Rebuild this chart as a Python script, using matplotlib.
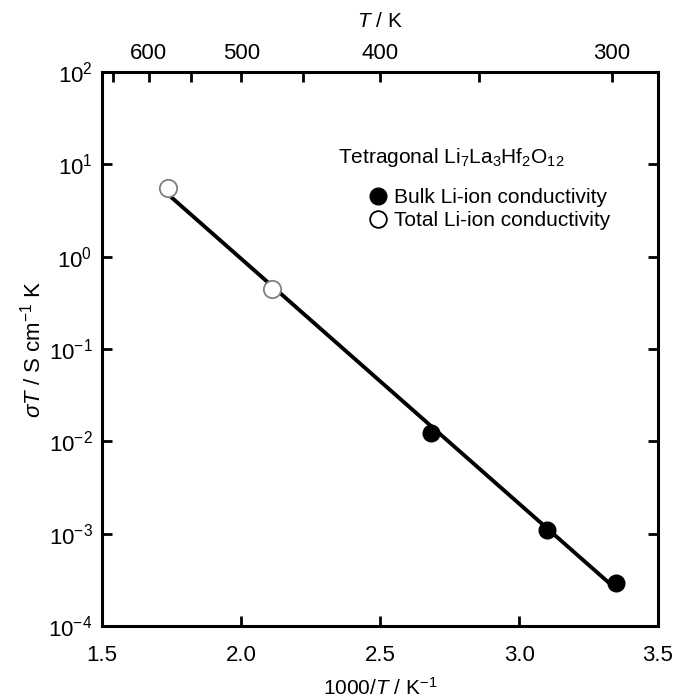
import numpy as np
import matplotlib
matplotlib.use("Agg")
import matplotlib.pyplot as plt
from matplotlib.lines import Line2D

plt.rcParams['font.family'] = ['Liberation Sans', 'DejaVu Sans']
plt.rcParams['mathtext.fontset'] = 'custom'
plt.rcParams['mathtext.rm'] = 'Liberation Sans'
plt.rcParams['mathtext.it'] = 'Liberation Sans:italic'
plt.rcParams['mathtext.default'] = 'regular'

# data
x_total = [1.736, 2.110]          # 1000/T, total conductivity (open)
y_total = [5.5, 0.445]
x_bulk = [2.682, 3.100, 3.349]    # 1000/T, bulk conductivity (filled)
y_bulk = [0.0123, 0.00110, 0.000296]

T_major = [600, 500, 400, 300]
T_minor = [650, 550, 450, 350]

# Arrhenius fit over all points
x_all = np.array(x_total + x_bulk)
y_all = np.log10(y_total + y_bulk)
p = np.polyfit(x_all, y_all, 1)
x_fit = np.array([x_all.min(), x_all.max()])
y_fit = 10 ** np.polyval(p, x_fit)

fig = plt.figure(figsize=(6.77, 6.98), dpi=100)
ax = fig.add_axes([0.151, 0.103, 0.821, 0.794])

ax.plot(x_fit, y_fit, color='black', lw=2.8, zorder=2)
ax.plot(x_total, y_total, 'o', ms=12.5, mfc='white', mec='#808080', mew=1.3, zorder=3)
ax.plot(x_bulk, y_bulk, 'o', ms=12, mfc='black', mec='black', zorder=3)

ax.set_yscale('log')
ax.set_xlim(1.5, 3.5)
ax.set_ylim(1e-4, 1e2)
ax.set_xticks([1.5, 2.0, 2.5, 3.0, 3.5])
ax.set_xticklabels(['1.5', '2.0', '2.5', '3.0', '3.5'])
ax.set_yticks([10.0 ** k for k in range(-4, 3)])
ax.set_yticklabels([r'$10^{%d}$' % k for k in range(-4, 3)])
ax.yaxis.set_minor_locator(matplotlib.ticker.NullLocator())
ax.tick_params(which='both', direction='in', length=7.5, width=2, labelsize=16, pad=7,
               right=True)
ax.tick_params(axis='x', pad=13.5)

for s in ax.spines.values():
    s.set_linewidth(2.2)

ax.set_xlabel(r'1000/$\mathit{T}$ / K$^{-1}$', fontsize=15, labelpad=8)
ax.set_ylabel(r'$\mathit{\sigma T}$ / S cm$^{-1}$ K', fontsize=16, labelpad=2)

# top axis in temperature
sec = ax.secondary_xaxis('top', functions=(lambda x: 1000 / x, lambda t: 1000 / t))
sec.set_xticks(T_major)
sec.set_xticklabels([str(t) for t in T_major])
sec.set_xticks(T_minor, minor=True)
sec.tick_params(which='both', direction='in', length=7.5, width=2, labelsize=16, pad=6)
sec.set_xlabel(r'$\mathit{T}$ / K', fontsize=15, labelpad=11)

ax.text(0.424, 0.846, r'Tetragonal Li$_7$La$_3$Hf$_2$O$_{12}$', transform=ax.transAxes,
        fontsize=15, va='center', ha='left')
handles = [Line2D([], [], ls='none', marker='o', ms=12, mfc='black', mec='black'),
           Line2D([], [], ls='none', marker='o', ms=12, mfc='white', mec='black', mew=1.3)]
ax.legend(handles, ['Bulk Li-ion conductivity', 'Total Li-ion conductivity'],
          loc='center left', bbox_to_anchor=(0.4815, 0.752), frameon=False, fontsize=15,
          handlelength=0.8, handletextpad=0.37, labelspacing=0.2, borderpad=0,
          borderaxespad=0)

fig.savefig('out.png', dpi=100)
